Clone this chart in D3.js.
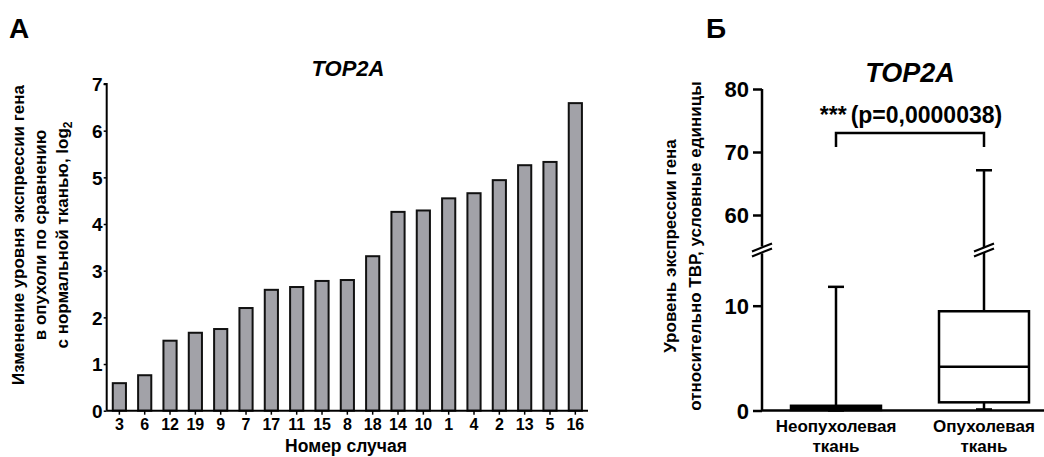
<!DOCTYPE html>
<html><head><meta charset="utf-8">
<script src="https://cdn.jsdelivr.net/npm/d3@7"></script>
<style>
html,body{margin:0;padding:0;background:#fff;}
text{font-family:"Liberation Sans",Arial,sans-serif;font-weight:bold;fill:#000;}
</style></head>
<body>
<svg id="chart" width="1044" height="457"></svg>
<script>
// ---- Panel A data ----
const cases = ["3","6","12","19","9","7","17","11","15","8","18","14","10","1","4","2","13","5","16"];
const foldChange = [0.59,0.76,1.50,1.67,1.75,2.20,2.59,2.65,2.78,2.80,3.31,4.26,4.29,4.55,4.66,4.94,5.26,5.33,6.59];
const leftTicks = [0,1,2,3,4,5,6,7];

// ---- Panel B data ----
const groups = ["Неопухолевая ткань","Опухолевая ткань"];
const groupLines = [["Неопухолевая","ткань"],["Опухолевая","ткань"]];
const boxMin = [0.0, 0.1];
const boxQ1 = [0.05, 0.78];
const boxMedian = [0.2, 4.18];
const boxQ3 = [0.45, 9.47];
const boxMax = [11.8, 67.1];
const lowTicks = [0,10];
const highTicks = [60,70,80];
const bracket = [73.0, 70.8];
const pLabel = "(p=0,0000038)";

const svg = d3.select("#chart");

// ================= Panel A =================
const xA = d3.scaleBand().domain(cases).range([106.7, 588]).paddingInner(0.48).paddingOuter(0.24);
const yA = d3.scaleLinear().domain([0,7]).range([410.7, 84]);

const gA = svg.append("g");
gA.selectAll("rect.bar").data(cases).join("rect")
  .attr("class","bar")
  .attr("x", d => xA(d))
  .attr("width", xA.bandwidth())
  .attr("y", (d,i) => yA(foldChange[i]))
  .attr("height", (d,i) => yA(0) - yA(foldChange[i]))
  .attr("fill", "#a2a2a8").attr("stroke", "#111").attr("stroke-width", 2);

const axLeftA = gA.append("g").attr("transform","translate(106.7,0)")
  .call(d3.axisLeft(yA).tickValues(leftTicks).tickSize(3).tickPadding(1).tickFormat(d3.format("d")));
axLeftA.select(".domain").attr("stroke-width",2).attr("d","M-3,"+yA(7)+"H0V"+yA(0));
axLeftA.selectAll(".tick line").attr("stroke-width",1.5);
axLeftA.selectAll("text").style("font-size","19px").attr("dy","0.36em");

const axBotA = gA.append("g").attr("transform","translate(0,"+yA(0)+")")
  .call(d3.axisBottom(xA).tickSize(4).tickPadding(4));
axBotA.select(".domain").attr("stroke-width",2).attr("d","M106.7,0H588");
axBotA.selectAll(".tick line").attr("stroke-width",1.5);
axBotA.selectAll("text").style("font-size","16px");

gA.append("text").attr("x",346).attr("y",452).attr("text-anchor","middle")
  .style("font-size","17.5px").text("Номер случая");

gA.append("text").attr("x",348).attr("y",76).attr("text-anchor","middle")
  .style("font-size","22px").style("font-style","italic").text("TOP2A");

gA.append("text").attr("x",9).attr("y",38).style("font-size","28px").text("А");

const yLabA = gA.append("text").attr("text-anchor","middle")
  .attr("transform","translate(24,235) rotate(-90)").style("font-size","17px");
yLabA.append("tspan").attr("x",0).attr("y",0).text("Изменение уровня экспрессии гена");
yLabA.append("tspan").attr("x",0).attr("y",22).text("в опухоли по сравнению");
yLabA.append("tspan").attr("x",0).attr("y",44).text("с нормальной тканью, log");
yLabA.append("tspan").attr("dy",4).style("font-size","12px").text("2");

// ================= Panel B =================
const xB = d3.scaleBand().domain(groups).range([762, 1058]).paddingInner(0.392).paddingOuter(0.196);
const yLow = d3.scaleLinear().domain([0,15]).range([410.5, 253.3]);
const yHigh = d3.scaleLinear().domain([55,80]).range([246.5, 89]);
const yB = v => v <= 15 ? yLow(v) : yHigh(v);
const axX = 762;

const gB = svg.append("g");
const axLow = gB.append("g").attr("transform","translate("+axX+",0)")
  .call(d3.axisLeft(yLow).tickValues(lowTicks).tickSize(9).tickPadding(4));
axLow.select(".domain").attr("d","M0,"+yLow(0)+"V"+yLow(15));
const axHigh = gB.append("g").attr("transform","translate("+axX+",0)")
  .call(d3.axisLeft(yHigh).tickValues(highTicks).tickSize(9).tickPadding(4));
axHigh.select(".domain").attr("d","M0,"+yHigh(55)+"V"+yHigh(80));
[axLow,axHigh].forEach(a=>{
  a.select(".domain").attr("stroke-width",2.5);
  a.selectAll(".tick line").attr("stroke-width",2.5);
  a.selectAll("text").style("font-size","22px").attr("dy","0.36em");
});
gB.append("line").attr("x1",axX).attr("x2",1044).attr("y1",yLow(0)).attr("y2",yLow(0))
  .attr("stroke","#000").attr("stroke-width",2.5);

function breakMark(cx){
  const yc = (yLow(15)+yHigh(55))/2;
  gB.append("polygon")
    .attr("points",[[cx-10,yc+2],[cx+10,yc-6],[cx+10,yc-1],[cx-10,yc+7]].map(p=>p.join(",")).join(" "))
    .attr("fill","#fff");
  [-2.5,2.5].forEach(o=>{
    gB.append("line").attr("x1",cx-10).attr("y1",yc+4+o).attr("x2",cx+10).attr("y2",yc-4+o)
      .attr("stroke","#000").attr("stroke-width",2.2);
  });
}

groups.forEach((g,i)=>{
  const cx = xB(g) + xB.bandwidth()/2;
  const bw = xB.bandwidth();
  gB.append("line").attr("x1",cx).attr("x2",cx).attr("y1",yB(boxQ3[i])).attr("y2",yB(boxMax[i]))
    .attr("stroke","#000").attr("stroke-width",2.5);
  gB.append("line").attr("x1",cx).attr("x2",cx).attr("y1",yB(boxQ1[i])).attr("y2",yB(boxMin[i]))
    .attr("stroke","#000").attr("stroke-width",2.5);
  gB.append("line").attr("x1",cx-8).attr("x2",cx+8).attr("y1",yB(boxMax[i])).attr("y2",yB(boxMax[i]))
    .attr("stroke","#000").attr("stroke-width",2.5);
  gB.append("line").attr("x1",cx-8).attr("x2",cx+8).attr("y1",yB(boxMin[i])).attr("y2",yB(boxMin[i]))
    .attr("stroke","#000").attr("stroke-width",2.5);
  gB.append("rect").attr("x",xB(g)).attr("width",bw)
    .attr("y",yB(boxQ3[i])).attr("height",yB(boxQ1[i])-yB(boxQ3[i]))
    .attr("fill", i===0 ? "#000" : "#fff").attr("stroke","#000").attr("stroke-width",2.5);
  gB.append("line").attr("x1",xB(g)).attr("x2",xB(g)+bw).attr("y1",yB(boxMedian[i])).attr("y2",yB(boxMedian[i]))
    .attr("stroke","#000").attr("stroke-width",2.5);
  if (boxMax[i] > 15) breakMark(cx);
  const t = gB.append("text").attr("text-anchor","middle").style("font-size","17px");
  groupLines[i].forEach((ln,j)=> t.append("tspan").attr("x",cx).attr("y",432+j*20).text(ln));
});
breakMark(axX);

const c0 = xB(groups[0]) + xB.bandwidth()/2, c1 = xB(groups[1]) + xB.bandwidth()/2;
gB.append("path")
  .attr("d","M"+c0+","+yB(bracket[1])+"V"+yB(bracket[0])+"H"+c1+"V"+yB(bracket[1]))
  .attr("fill","none").attr("stroke","#000").attr("stroke-width",2.5);
const pt = gB.append("text").attr("x",911).attr("y",123).attr("text-anchor","middle").style("font-size","23px");
pt.append("tspan").text("***");
pt.append("tspan").attr("dx",4).text(pLabel);

gB.append("text").attr("x",910).attr("y",82).attr("text-anchor","middle")
  .style("font-size","27px").style("font-style","italic").text("TOP2A");
gB.append("text").attr("x",706).attr("y",38).style("font-size","28px").text("Б");

const yLabB = gB.append("text").attr("text-anchor","middle")
  .attr("transform","translate(676,246) rotate(-90)").style("font-size","17px");
yLabB.append("tspan").attr("x",0).attr("y",0).text("Уровень экспрессии гена");
yLabB.append("tspan").attr("x",0).attr("y",25).text("относительно ТВР, условные единицы");
</script>
</body></html>
